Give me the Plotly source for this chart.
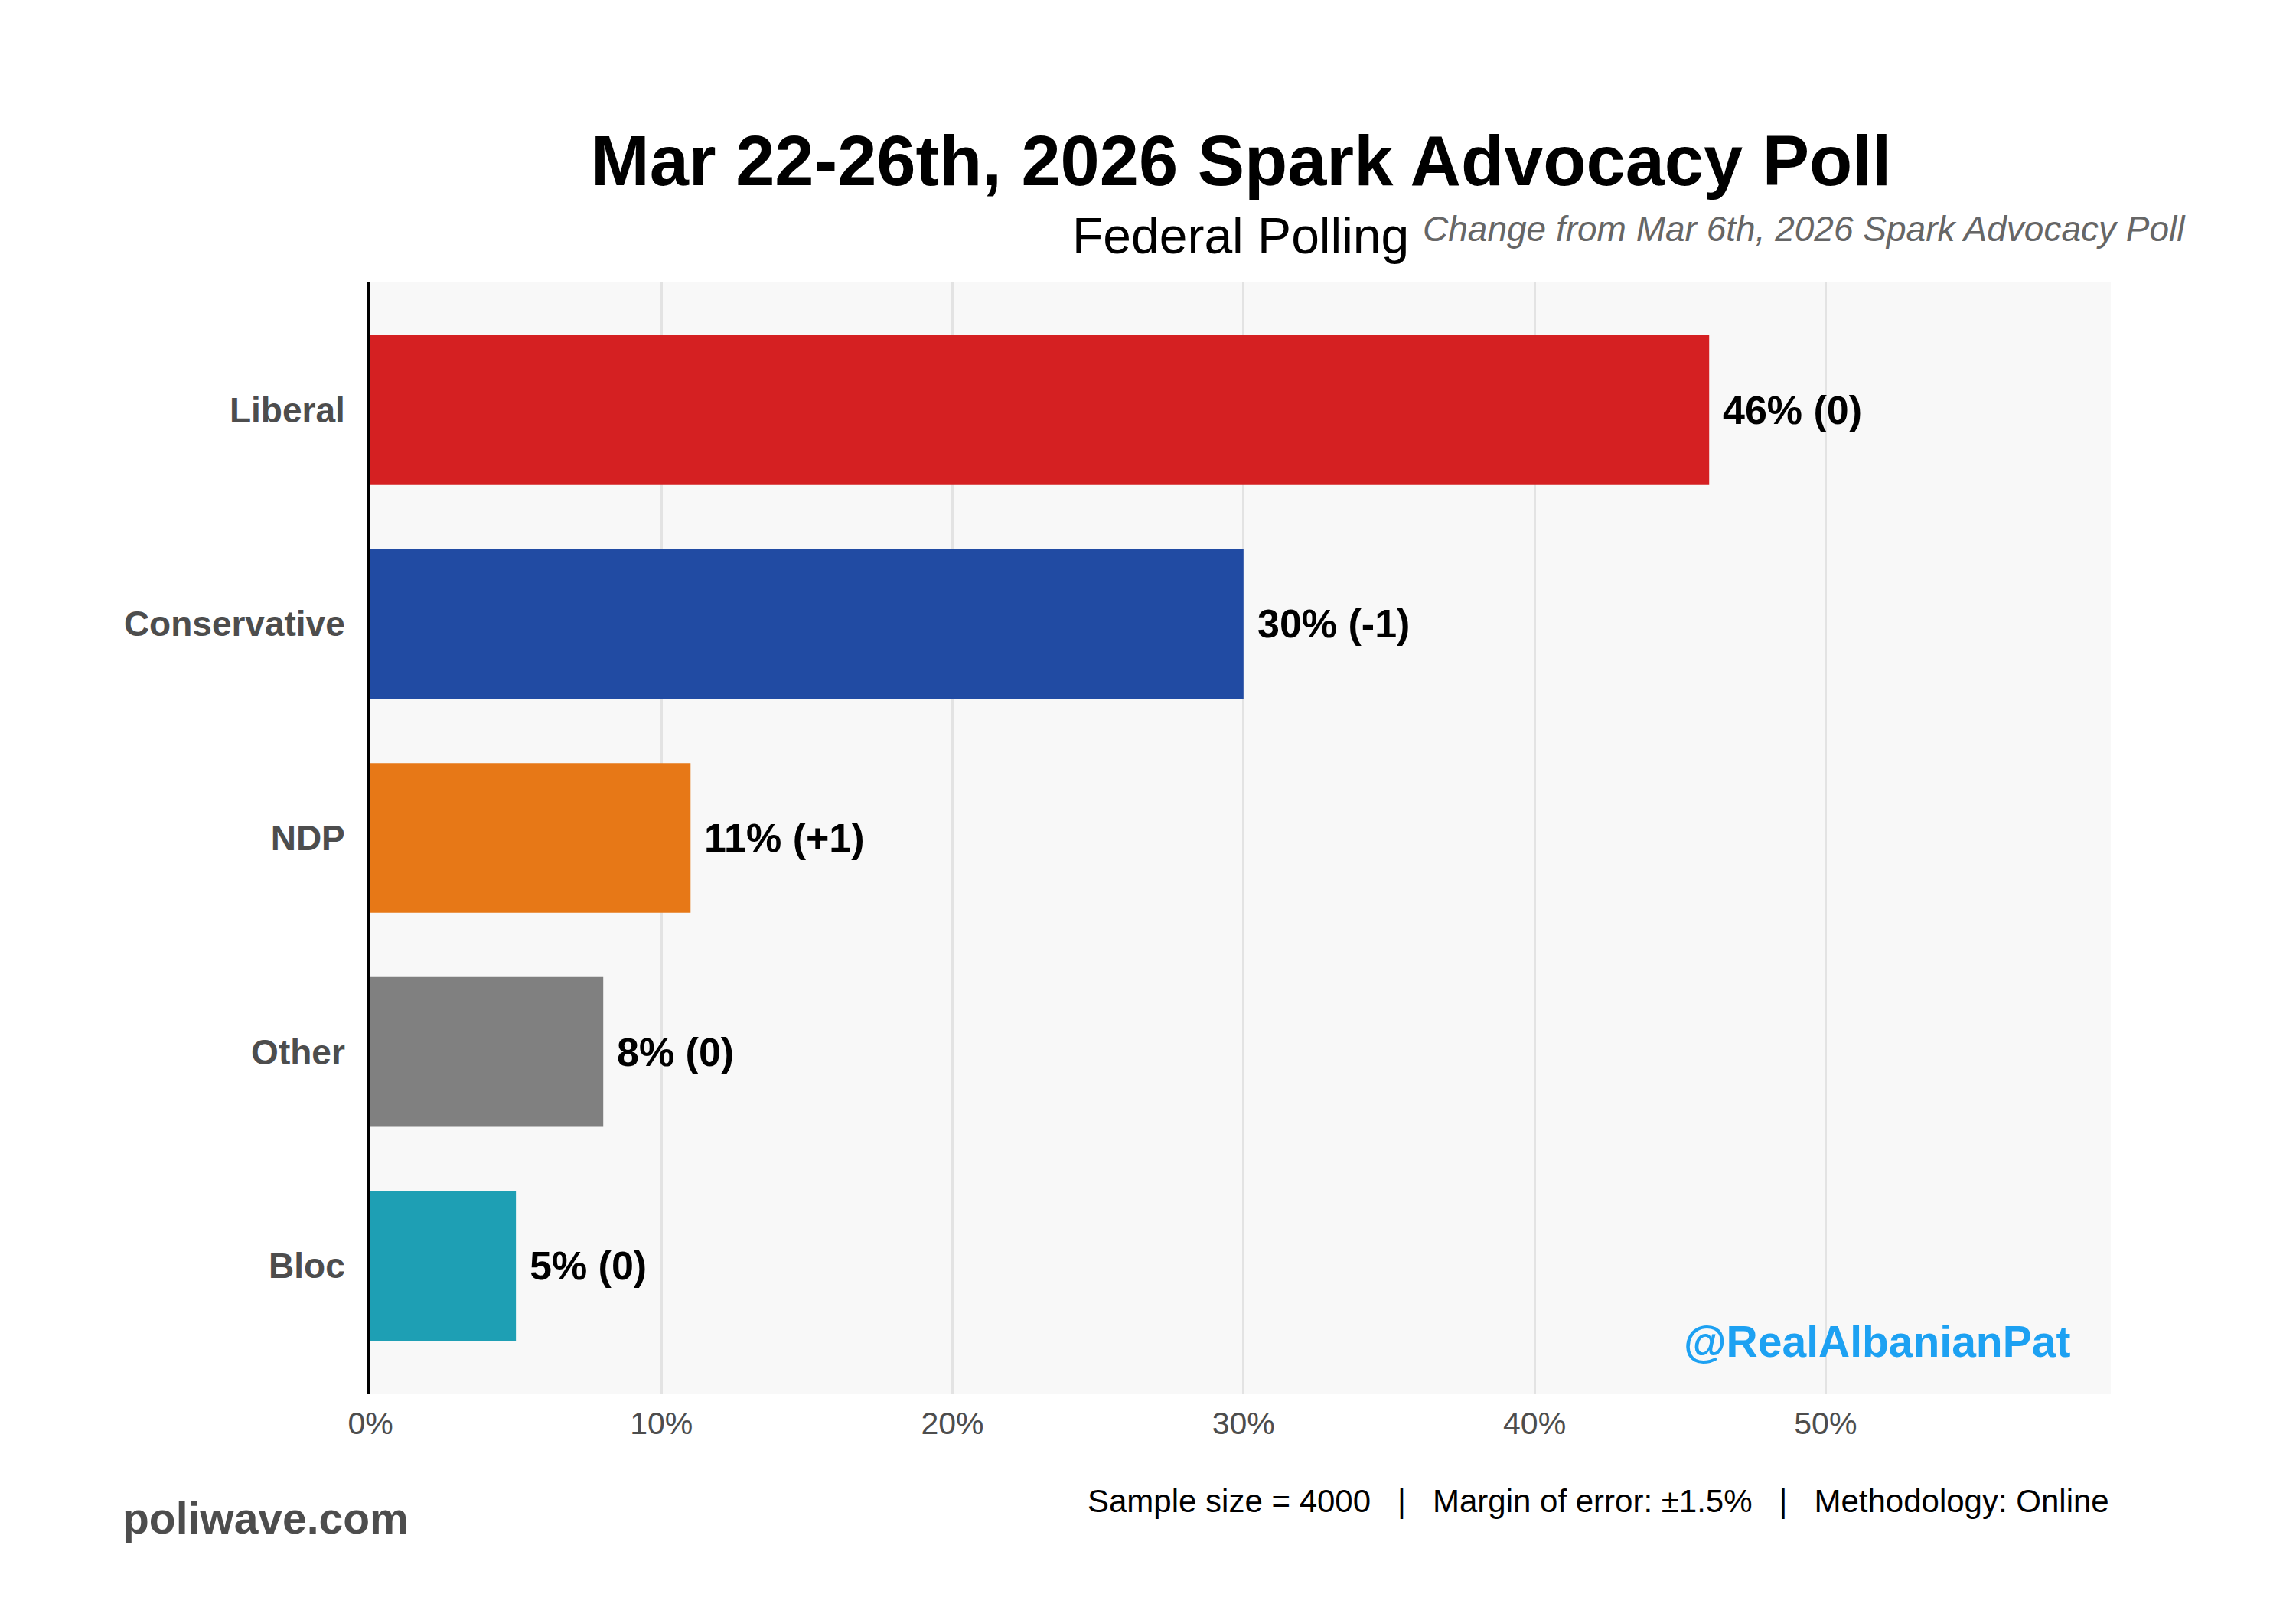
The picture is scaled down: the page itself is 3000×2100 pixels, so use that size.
import plotly.graph_objects as go

parties = ["Liberal", "Conservative", "NDP", "Other", "Bloc"]
values = [46, 30, 11, 8, 5]
changes = ["0", "-1", "+1", "0", "0"]
colors = ["#D52022", "#214BA3", "#E77817", "#808080", "#1E9FB4"]
x_ticks = [0, 10, 20, 30, 40, 50]
x_tick_labels = [f"{t}%" for t in x_ticks]

FONT = "Liberation Sans, Arial, sans-serif"

fig = go.Figure()
fig.add_trace(go.Bar(
    x=values, y=parties, orientation="h",
    marker=dict(color=colors, line=dict(width=0)),
    hoverinfo="skip",
))

for p, v, c in zip(parties, values, changes):
    fig.add_annotation(
        x=v, y=p, xref="x", yref="y", text=f"<b>{v}% ({c})</b>",
        showarrow=False, xanchor="left", yanchor="middle", xshift=16,
        font=dict(family=FONT, size=52, color="#000000"),
    )

W, H = 3000, 2100
L, R, T, B = 476, 250, 360, 286
PW, PH = W - L - R, H - T - B

def px(x):
    return (x - L) / PW

def py(y):
    return (H - B - y) / PH

fig.add_annotation(x=0.5, y=py(202), xref="paper", yref="paper",
                   text="<b>Mar 22-26th, 2026 Spark Advocacy Poll</b>",
                   showarrow=False, xanchor="center", yanchor="middle",
                   font=dict(family=FONT, size=92, color="#000000"))
fig.add_annotation(x=0.5, y=py(300), xref="paper", yref="paper",
                   text="Federal Polling",
                   showarrow=False, xanchor="center", yanchor="middle",
                   font=dict(family=FONT, size=66, color="#000000"))
fig.add_annotation(x=px(2850), y=py(291), xref="paper", yref="paper",
                   text="<i>Change from Mar 6th, 2026 Spark Advocacy Poll</i>",
                   showarrow=False, xanchor="right", yanchor="middle",
                   font=dict(family=FONT, size=46, color="#666666"))
fig.add_annotation(x=px(2699), y=py(1745), xref="paper", yref="paper",
                   text="<b>@RealAlbanianPat</b>",
                   showarrow=False, xanchor="right", yanchor="middle",
                   font=dict(family=FONT, size=57, color="#1DA1F2"))
fig.add_annotation(x=px(150), y=py(1976), xref="paper", yref="paper",
                   text="<b>poliwave.com</b>",
                   showarrow=False, xanchor="left", yanchor="middle",
                   font=dict(family=FONT, size=57, color="#4D4D4D"))
sp = "\u00a0" * 3
fig.add_annotation(x=1.0, y=py(1953), xref="paper", yref="paper",
                   text=f"Sample size = 4000{sp}|{sp}Margin of error: ±1.5%{sp}|{sp}Methodology: Online",
                   showarrow=False, xanchor="right", yanchor="middle",
                   font=dict(family=FONT, size=42, color="#000000"))

fig.update_layout(
    width=W, height=H,
    margin=dict(l=L, r=R, t=T, b=B, pad=0),
    paper_bgcolor="#FFFFFF", plot_bgcolor="#F8F8F8",
    bargap=0.3, showlegend=False,
    font=dict(family=FONT),
)
fig.update_xaxes(
    range=[0, 59.8], tickvals=x_ticks, ticktext=x_tick_labels,
    showgrid=True, gridcolor="#E3E3E3", gridwidth=3,
    zeroline=False, showline=False, ticks="",
    tickfont=dict(family=FONT, size=41, color="#4D4D4D"),
    ticklabelstandoff=10,
)
fig.update_yaxes(
    categoryorder="array", categoryarray=parties,
    range=[4.6, -0.6], showgrid=False, zeroline=False,
    showline=True, linecolor="#000000", linewidth=4, ticks="",
    tickfont=dict(family=FONT, size=46, color="#4D4D4D", weight="bold"),
    ticklabelstandoff=20,
)

fig.write_html("out.html")
